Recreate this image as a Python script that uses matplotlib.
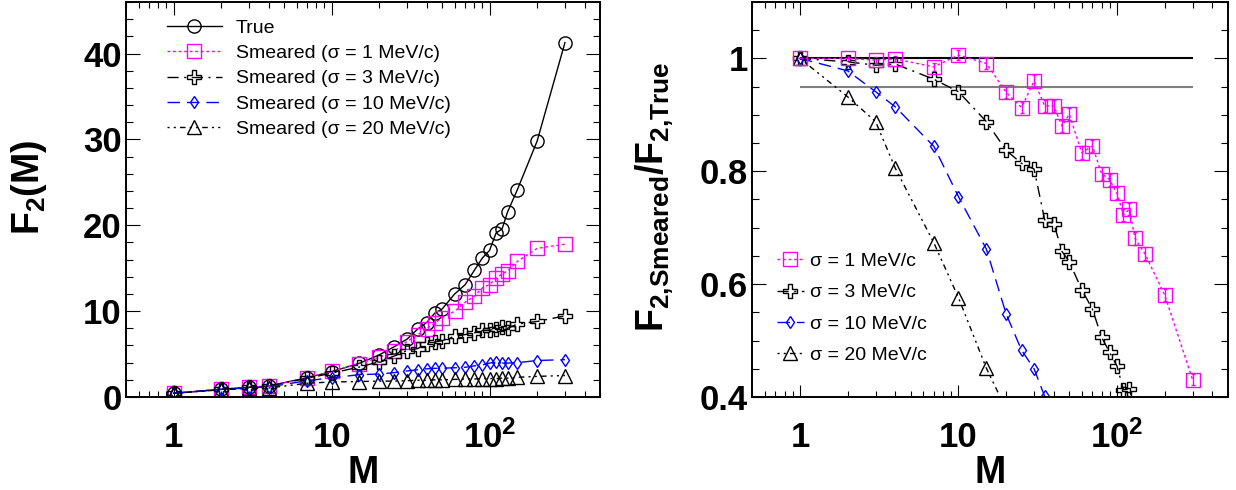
import matplotlib
matplotlib.use("Agg")
import matplotlib.pyplot as plt
from matplotlib.ticker import LogLocator, NullFormatter, FixedLocator, MultipleLocator
from matplotlib.lines import Line2D

plt.rcParams['font.family'] = ['Liberation Sans', 'DejaVu Sans']
plt.rcParams['mathtext.fontset'] = 'custom'
plt.rcParams['mathtext.rm'] = 'Liberation Sans'
plt.rcParams['mathtext.bf'] = 'Liberation Sans:bold'
plt.rcParams['mathtext.it'] = 'Liberation Sans:italic'

# ---------------- data ----------------
M = [1, 2, 3, 4, 7, 10, 15, 20, 25, 30, 35, 40, 45, 50, 60, 70, 80, 90, 100,
     110, 120, 130, 150, 200, 300]

F2_true = [0.43, 0.90, 1.13, 1.28, 2.25, 2.95, 3.93, 4.90, 5.87, 6.73, 7.90,
           8.67, 9.77, 10.23, 11.98, 13.07, 14.74, 16.18, 17.07, 19.10, 19.57,
           21.55, 24.15, 29.80, 41.27]
F2_s1 = [0.43, 0.90, 1.13, 1.28, 2.22, 2.97, 3.89, 4.61, 5.36, 6.46, 7.24,
         7.94, 8.60, 9.22, 9.98, 11.04, 11.73, 12.70, 13.10, 13.81, 14.34,
         14.68, 15.79, 17.31, 17.79]
F2_s3 = [0.43, 0.89, 1.12, 1.27, 2.17, 2.78, 3.49, 4.10, 4.78, 5.41, 5.64,
         6.13, 6.43, 6.55, 7.07, 7.27, 7.46, 7.75, 7.77, 7.89, 8.10, 8.00,
         8.50, 8.80, 9.45]
F2_s10 = [0.43, 0.88, 1.06, 1.17, 1.90, 2.23, 2.60, 2.68, 2.84, 3.03, 3.17,
          3.28, 3.34, 3.36, 3.40, 3.46, 3.62, 3.73, 3.95, 4.05, 3.95, 3.95,
          4.00, 4.25, 4.35]
F2_s20 = [0.43, 0.84, 1.00, 1.05, 1.60, 1.75, 1.80, 1.85, 1.85, 1.90, 1.95,
          1.95, 2.00, 2.00, 2.05, 2.10, 2.10, 2.15, 2.15, 2.15, 2.20, 2.20,
          2.30, 2.40, 2.50]

R_s1 = [1.000, 1.000, 0.997, 0.999, 0.985, 1.006, 0.991, 0.940, 0.913, 0.960,
        0.916, 0.916, 0.880, 0.901, 0.833, 0.845, 0.796, 0.785, 0.761, 0.723,
        0.733, 0.681, 0.654, 0.581, 0.431]
R_s1_err = [0.000, 0.004, 0.005, 0.005, 0.007, 0.009, 0.009, 0.010, 0.010,
            0.011, 0.011, 0.011, 0.011, 0.011, 0.011, 0.011, 0.011, 0.011,
            0.011, 0.011, 0.011, 0.011, 0.011, 0.011, 0.010]
R_s3 = [1.000, 0.994, 0.988, 0.990, 0.963, 0.941, 0.888, 0.837, 0.814, 0.804,
        0.714, 0.707, 0.658, 0.640, 0.590, 0.556, 0.506, 0.479, 0.455, 0.413,
        0.414, 0.371, 0.352, 0.295, 0.229]
R_s10 = [1.000, 0.978, 0.941, 0.914, 0.844, 0.755, 0.662, 0.547, 0.483, 0.450,
         0.401, 0.378, 0.342, 0.328, 0.284, 0.265, 0.246, 0.231, 0.231, 0.212,
         0.202, 0.183, 0.166, 0.143, 0.105]
R_s20 = [1.000, 0.932, 0.888, 0.805, 0.673, 0.576, 0.451, 0.378, 0.315, 0.282,
         0.247, 0.225, 0.205, 0.196, 0.171, 0.161, 0.142, 0.133, 0.126, 0.113,
         0.112, 0.102, 0.095, 0.081, 0.061]

ref_lines = [1.0, 0.95]
ref_line_range = [1, 300]

legend_left = ['True', 'Smeared (σ = 1 MeV/c)', 'Smeared (σ = 3 MeV/c)',
               'Smeared (σ = 10 MeV/c)', 'Smeared (σ = 20 MeV/c)']
legend_right = ['σ = 1 MeV/c', 'σ = 3 MeV/c', 'σ = 10 MeV/c', 'σ = 20 MeV/c']

xtick_vals = [1, 10, 100]
xtick_labels = ['1', '10', r'$\mathbf{10^{2}}$']
ytick_left = [0, 10, 20, 30, 40]
ytick_left_labels = ['0', '10', '20', '30', '40']
ytick_right = [0.4, 0.6, 0.8, 1.0]
ytick_right_labels = ['0.4', '0.6', '0.8', '1']

# ---------------- styles ----------------
MAG = '#ff00ff'
BLU = '#0000ff'
st_true = dict(color='black', ls='-', marker='o', ms=9.5)
st_s1 = dict(color=MAG, ls=(0, (2, 2)), marker='s', ms=9.5)
st_s3 = dict(color='black', ls=(0, (8, 4, 1.5, 4)), marker='P', ms=10)
st_s10 = dict(color=BLU, ls=(0, (9, 5)), marker='d', ms=6.5)
st_s20 = dict(color='black', ls=(0, (1.5, 3, 1.5, 3, 4, 3)), marker='^', ms=9.5)
common = dict(lw=1.0, mfc='none', mew=1.0)

W, H = 1236, 490
fig = plt.figure(figsize=(W / 100, H / 100), dpi=100)
ax1 = fig.add_axes([126 / W, 1 - 397 / H, 474 / W, 395 / H])
ax2 = fig.add_axes([752.3 / W, 1 - 397 / H, 475.4 / W, 395 / H])


def style_axes(ax):
    ax.set_xscale('log')
    ax.set_xlim(0.5, 500)
    ax.xaxis.set_major_locator(FixedLocator(xtick_vals))
    ax.xaxis.set_minor_locator(LogLocator(base=10, subs=range(2, 10)))
    ax.xaxis.set_minor_formatter(NullFormatter())
    ax.set_xticklabels(xtick_labels, fontweight='bold', fontsize=25)
    ax.tick_params(axis='both', which='both', direction='in', top=True,
                   right=True, width=0.8, colors='black')
    ax.tick_params(axis='x', which='major', length=9, pad=17)
    ax.tick_params(axis='x', which='minor', length=4.5)
    ax.tick_params(axis='y', which='major', length=10, pad=3)
    ax.tick_params(axis='y', which='minor', length=5)
    for s in ax.spines.values():
        s.set_linewidth(1.4)
    ax.set_xlabel('M', fontsize=27, fontweight='bold')
    ax.xaxis.set_label_coords(0.5, -0.147)


# ---------------- left panel ----------------
h = []
h.append(ax1.plot(M, F2_true, **st_true, **common)[0])
h.append(ax1.plot(M, F2_s1, **st_s1, **common)[0])
h.append(ax1.plot(M, F2_s3, **st_s3, **common)[0])
h.append(ax1.plot(M, F2_s10, **st_s10, **common)[0])
h.append(ax1.plot(M, F2_s20, **st_s20, **common)[0])
style_axes(ax1)
ax1.set_ylim(0, 46)
ax1.set_yticks(ytick_left)
ax1.set_yticklabels(ytick_left_labels, fontweight='bold', fontsize=25)
ax1.yaxis.set_minor_locator(MultipleLocator(2))
ax1.set_ylabel(r'$\mathbf{F_{2}(M)}$', fontsize=27)
ax1.yaxis.set_label_coords(-0.163, 0.53)
fig.legend(h, legend_left, loc='upper left',
           bbox_to_anchor=(166.7 / W, 1 - 19 / H), frameon=False,
           fontsize=14, handlelength=2.85, handletextpad=0.7,
           labelspacing=0.4, borderpad=0, borderaxespad=0)

# ---------------- right panel ----------------
for yv, c in zip(ref_lines, ['black', '#808080']):
    ax2.hlines(yv, ref_line_range[0], ref_line_range[1], colors=c, lw=1.5,
               zorder=1)
ax2.errorbar(M, R_s1, yerr=R_s1_err, capsize=1.5, elinewidth=1.0,
             **st_s1, **common)
h2 = [Line2D([], [], **st_s1, **common)]
h2.append(ax2.plot(M, R_s3, **st_s3, **common)[0])
h2.append(ax2.plot(M, R_s10, **st_s10, **common)[0])
h2.append(ax2.plot(M, R_s20, **st_s20, **common)[0])
style_axes(ax2)
ax2.set_ylim(0.4, 1.1)
ax2.set_yticks(ytick_right)
ax2.set_yticklabels(ytick_right_labels, fontweight='bold', fontsize=25)
ax2.yaxis.set_minor_locator(MultipleLocator(0.05))
ax2.set_ylabel(r'$\mathbf{F_{2{,}Smeared}/F_{2{,}True}}$', fontsize=27)
ax2.yaxis.set_label_coords(-0.160, 0.506)
fig.legend(h2, legend_right, loc='upper left',
           bbox_to_anchor=(776.7 / W, 1 - 252.4 / H), frameon=False,
           fontsize=14, handlelength=1.4, handletextpad=0.3,
           labelspacing=0.71, borderpad=0, borderaxespad=0)

fig.savefig('out.png', dpi=100)
